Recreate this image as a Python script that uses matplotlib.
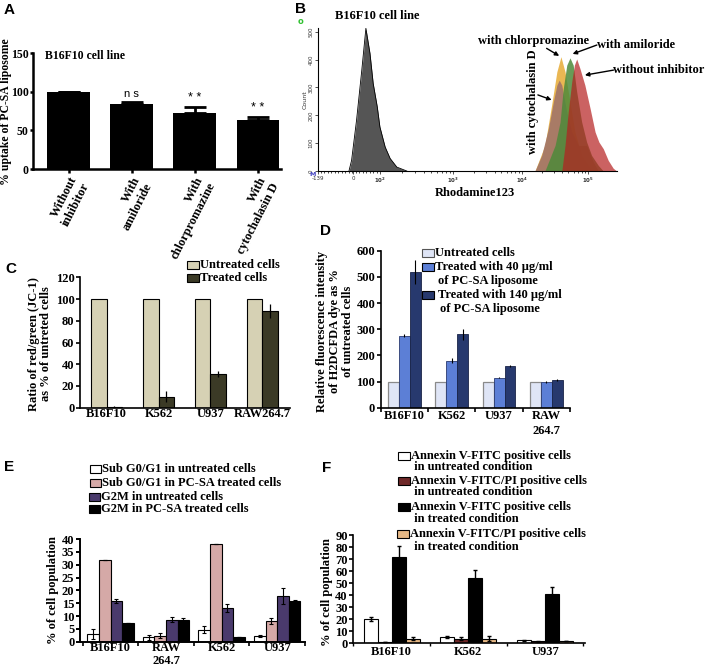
import numpy as np
import matplotlib.pyplot as plt
from matplotlib.patches import Rectangle
from matplotlib.transforms import ScaledTranslation

W, H = 705, 667

# ---- A: uptake with endocytosis inhibitors
a_labels = ['Without\ninhibitor', 'With\namiloride', 'With\nchlorpromazine', 'With\ncytochalasin D']
a_vals = [100, 84, 72, 64]
a_err = [0, 2, 8, 3]
a_marks = ['', 'n s', '* *', '* *']

# ---- B: flow histograms (channel, count)
b_ctrl_x = [106, 115, 132, 150, 164, 178, 189, 203, 212, 230, 247, 270, 304]
b_ctrl_y = [0, 38, 182, 362, 512, 422, 314, 230, 158, 86, 45, 14, 0]
b_chlor_x = [743, 777, 800, 818, 832, 846, 863, 880, 903, 932, 942]
b_chlor_y = [0, 92, 236, 356, 410, 356, 248, 140, 56, 10, 0]
b_cyto_x = [743, 766, 789, 806, 818, 826, 835, 852, 869, 892, 920, 943, 960]
b_cyto_y = [0, 56, 152, 248, 308, 326, 308, 212, 140, 92, 92, 32, 0]
b_amil_x = [777, 812, 829, 840, 852, 863, 874, 886, 903, 920, 937, 960, 977]
b_amil_y = [0, 92, 176, 296, 380, 406, 380, 284, 176, 104, 56, 20, 0]
b_none_x = [835, 846, 857, 869, 878, 886, 897, 914, 932, 949, 962, 977, 994, 1011, 1023]
b_none_y = [0, 92, 212, 320, 380, 402, 368, 308, 224, 140, 104, 80, 38, 10, 0]
b_tick_pos = [0, 121, 212, 463, 698, 926]
b_tick_lab = ['-139', '0', '$10^2$', '$10^3$', '$10^4$', '$10^5$']

# ---- C: JC-1
c_cells = ['B16F10', 'K562', 'U937', 'RAW264.7']
c_untreated = [100, 100, 100, 100]
c_treated = [1, 10, 31, 89]
c_treated_err = [0.3, 5, 3, 6]

# ---- D: H2DCFDA
d_cells = ['B16F10', 'K562', 'U937', 'RAW\n264.7']
d_untreated = [100, 100, 100, 100]
d_40 = [275, 180, 115, 98]
d_40_err = [5, 10, 3, 3]
d_140 = [518, 280, 160, 105]
d_140_err = [45, 22, 4, 3]

# ---- E: cell cycle
e_cells = ['B16F10', 'RAW\n264.7', 'K562', 'U937']
e_sub_unt = [3.1, 1.8, 4.7, 2.2]
e_sub_unt_err = [2, 1, 1.4, 0.4]
e_sub_trt = [32, 2.4, 38, 8.2]
e_sub_trt_err = [0, 1.1, 0, 1.2]
e_g2m_unt = [15.8, 8.6, 13.1, 17.8]
e_g2m_unt_err = [0.9, 1.1, 1.7, 3.2]
e_g2m_trt = [7.4, 8.6, 1.8, 15.7]
e_g2m_trt_err = [0, 0.7, 0, 0.4]

# ---- F: annexin
f_cells = ['B16F10', 'K562', 'U937']
f_ann_unt = [20, 5.3, 2.5]
f_ann_unt_err = [1.5, 1, 0.5]
f_pi_unt = [1.1, 3.9, 1.7]
f_pi_unt_err = [0.3, 1.5, 0.3]
f_ann_trt = [72, 54, 40.7]
f_ann_trt_err = [9, 6.6, 6.3]
f_pi_trt = [3.9, 3.9, 1.9]
f_pi_trt_err = [1.5, 2, 0.3]

plt.rcParams['font.family'] = ['Liberation Serif', 'DejaVu Serif']
plt.rcParams['font.weight'] = 'bold'
plt.rcParams['font.size'] = 9

fig = plt.figure(figsize=(7.05, 6.67), dpi=100)


def add_box(l, t, r, b):
    return fig.add_axes([l / W, 1 - b / H, (r - l) / W, (b - t) / H])


def put(x, y, s, **kw):
    return fig.text(x / W, 1 - y / H, s, **kw)


def key(x, y, color, label, edge='k', w=12, h=8):
    fig.patches.append(Rectangle((x / W, 1 - (y + h / 2) / H), w / W, h / H,
                                 transform=fig.transFigure, facecolor=color,
                                 edgecolor=edge, lw=0.8))
    put(x + w + 1, y, label, ha='left', va='center', fontsize=9)


def letter(x, y, s):
    put(x, y, s, ha='left', va='top', fontsize=11, family='Liberation Sans', fontweight='bold')


def style(ax, lw=1.2):
    for s in ['top', 'right']:
        ax.spines[s].set_visible(False)
    for s in ['left', 'bottom']:
        ax.spines[s].set_linewidth(lw)
    ax.tick_params(direction='out', length=3, width=lw, labelsize=9, pad=1)


# ================= A
ax = add_box(33, 53, 281, 169)
xa = np.arange(len(a_vals))
ax.bar(xa, a_vals, width=0.68, color='k')
ax.errorbar(xa, a_vals, yerr=[np.zeros(len(a_err)), a_err], fmt='none', ecolor='k',
            elinewidth=2, capsize=8, capthick=2)
for i, m in enumerate(a_marks):
    if m:
        ax.text(xa[i], a_vals[i] + a_err[i] + 4, m, ha='center', va='bottom',
                family='Liberation Sans', fontweight='normal', fontsize=9 if m != 'n s' else 8)
ax.set_xlim(-0.562, 3.364)
ax.set_ylim(0, 150)
ax.set_yticks([0, 50, 100, 150])
ax.set_xticks(xa)
ax.set_xticklabels(a_labels, rotation=63, ha='right', va='top', rotation_mode='anchor',
                   multialignment='right', fontsize=9)
shift = ScaledTranslation(-4 / 100, 0, fig.dpi_scale_trans)
for t in ax.get_xticklabels():
    t.set_transform(t.get_transform() + shift)
style(ax, 1.8)
ax.tick_params(axis='y', labelsize=8.5, length=2.5, pad=0.5)
ax.text(0.05, 0.97, 'B16F10 cell line', transform=ax.transAxes, fontsize=8.5, va='center')
put(6, 112, '% uptake of PC-SA liposome', rotation=90, ha='center', va='center', fontsize=8.5)
letter(4, 3, 'A')

# ================= B
bx = add_box(318, 28.3, 617, 171)
bx.fill_between(b_ctrl_x, b_ctrl_y, color='#555555', lw=0)
bx.plot(b_ctrl_x, b_ctrl_y, color='k', lw=0.6)
bx.fill_between(b_chlor_x, b_chlor_y, color='#e8b040', alpha=0.9, lw=0)
bx.fill_between(b_cyto_x, b_cyto_y, color='#a57868', alpha=0.95, lw=0)
bx.fill_between(b_amil_x, b_amil_y, color='#4e8a3a', alpha=0.85, lw=0)
bx.fill_between(b_none_x, b_none_y, color='#b52020', alpha=0.7, lw=0)
bx.set_xlim(0, 1024)
bx.set_ylim(0, 512)
bx.set_xticks(b_tick_pos)
bx.set_xticklabels(b_tick_lab)
dec = b_tick_pos[2:]
minor = []
for k in range(len(dec) - 1):
    minor += [dec[k] + np.log10(m) * (dec[k + 1] - dec[k]) for m in range(2, 10)]
minor += list(np.arange(10, b_tick_pos[2], 12))
bx.set_xticks(minor, minor=True)
bx.set_yticks([0, 100, 200, 300, 400, 500])
bx.tick_params(axis='both', labelsize=4, length=2, width=0.6, pad=1, colors='#333333')
bx.tick_params(axis='x', pad=1.5)
bx.tick_params(axis='x', which='minor', length=1.5, width=0.5)
for t in bx.get_yticklabels():
    t.set_rotation(90)
    t.set_va('center')
    t.set_family('DejaVu Sans')
    t.set_fontweight('normal')
for t in bx.get_xticklabels():
    t.set_family('DejaVu Sans')
    t.set_fontweight('normal')
for s in ['top', 'right']:
    bx.spines[s].set_visible(False)
for s in ['left', 'bottom']:
    bx.spines[s].set_linewidth(0.8)
put(305, 100, 'Count', rotation=90, ha='center', va='center', fontsize=4.5,
    family='DejaVu Sans', fontweight='normal', color='#333333')
put(313, 174, 'M', ha='center', va='center', fontsize=4.5, family='DejaVu Sans', color='#4040c0')
put(301, 22, 'o', ha='center', va='center', fontsize=6, family='DejaVu Sans', color='#30c030')
put(335, 16, 'B16F10 cell line', ha='left', va='center', fontsize=9)
put(475, 193, 'Rhodamine123', ha='center', va='center', fontsize=9)
arr = dict(arrowstyle='-|>', color='k', lw=1, mutation_scale=6, shrinkA=0, shrinkB=0)
bx.annotate('', xy=(826, 413), xytext=(783, 440), arrowprops=arr, annotation_clip=False)
bx.text(738, 467, 'with chlorpromazine', ha='center', va='center', fontsize=9, clip_on=False)
bx.annotate('', xy=(872, 420), xytext=(955, 452), arrowprops=arr, annotation_clip=False)
bx.text(955, 452, 'with amiloride', ha='left', va='center', fontsize=9, clip_on=False)
bx.annotate('', xy=(914, 344), xytext=(1012, 362), arrowprops=arr, annotation_clip=False)
bx.text(1012, 362, 'without inhibitor', ha='left', va='center', fontsize=9, clip_on=False)
bx.annotate('', xy=(800, 255), xytext=(753, 273), arrowprops=arr, annotation_clip=False)
bx.text(735, 248, 'with cytochalasin D', rotation=90, ha='center', va='center', fontsize=9)
letter(295, 2, 'B')

# ================= C
cx = add_box(80, 277.3, 290, 407.7)
xc = np.arange(len(c_cells))
cw = 0.3
cx.bar(xc - cw / 2, c_untreated, width=cw, color='#d6d1b4', edgecolor='k', lw=0.8)
cx.bar(xc + cw / 2, c_treated, width=cw, color='#3b3a26', edgecolor='k', lw=0.8,
       yerr=c_treated_err, error_kw=dict(ecolor='k', elinewidth=0.9, capsize=0))
cx.set_xlim(-0.514, 3.534)
cx.set_ylim(0, 120)
cx.set_yticks(range(0, 121, 20))
cx.set_xticks(xc)
cx.set_xticklabels(c_cells)
style(cx, 1.2)
cx.tick_params(axis='x', length=0, pad=0)
put(40, 344, 'Ratio of red/green (JC-1)\nas % of untreted cells', rotation=90,
    ha='center', va='center', fontsize=9, linespacing=1.1)
key(187, 265, '#d6d1b4', 'Untreated cells')
key(187, 278, '#3b3a26', 'Treated cells')
letter(5, 262, 'C')

# ================= D
dx = add_box(380.7, 250.7, 570, 407.7)
xd = np.arange(len(d_cells))
dw = 0.232
dx.bar(xd - dw, d_untreated, width=dw, color='#dfe5f6', edgecolor='#8a8a8a', lw=0.9)
dx.bar(xd, d_40, width=dw, color='#5c7fd6', edgecolor='#2a3a70', lw=0.6,
       yerr=d_40_err, error_kw=dict(ecolor='k', elinewidth=0.8, capsize=0))
dx.bar(xd + dw, d_140, width=dw, color='#27396e', edgecolor='#1a2448', lw=0.6,
       yerr=d_140_err, error_kw=dict(ecolor='k', elinewidth=0.8, capsize=0))
dx.set_xlim(-0.486, 3.499)
dx.set_ylim(0, 600)
dx.set_yticks(range(0, 601, 100))
dx.set_xticks(xd)
dx.set_xticklabels(d_cells, va='top', linespacing=1.3)
dx.set_xticks(np.arange(-0.5, 4, 1), minor=True)
style(dx, 1.2)
dx.tick_params(axis='x', which='major', length=0, pad=2)
dx.tick_params(axis='x', which='minor', length=3, width=1.2)
put(335, 331, 'Relative fluorescence intensity\nof H2DCFDA dye as %\nof untreated cells',
    rotation=90, ha='center', va='center', fontsize=9, linespacing=1.1)
key(422, 253.3, '#dfe5f6', 'Untreated cells', edge='#555555')
key(422, 266.7, '#5c7fd6', 'Treated with 40 \u03bcg/ml')
put(438, 281, 'of PC-SA liposome', ha='left', va='center', fontsize=9)
key(422, 295, '#27396e', ' Treated with 140 \u03bcg/ml')
put(440, 309, 'of PC-SA liposome', ha='left', va='center', fontsize=9)
letter(320, 224, 'D')

# ================= E
ex = add_box(80, 539, 305, 641.7)
xe = np.arange(len(e_cells))
ew = 0.209
ek = dict(ecolor='k', elinewidth=0.8, capsize=1.5, capthick=0.8)
ex.bar(xe - 1.5 * ew, e_sub_unt, width=ew, color='white', edgecolor='k', lw=0.8,
       yerr=e_sub_unt_err, error_kw=ek)
ex.bar(xe - 0.5 * ew, e_sub_trt, width=ew, color='#d5a9a7', edgecolor='k', lw=0.8,
       yerr=e_sub_trt_err, error_kw=ek)
ex.bar(xe + 0.5 * ew, e_g2m_unt, width=ew, color='#4a3a6c', edgecolor='k', lw=0.8,
       yerr=e_g2m_unt_err, error_kw=ek)
ex.bar(xe + 1.5 * ew, e_g2m_trt, width=ew, color='black', edgecolor='k', lw=0.8,
       yerr=e_g2m_trt_err, error_kw=ek)
ex.set_xlim(-0.549, 3.478)
ex.set_ylim(0, 40)
ex.set_yticks(range(0, 41, 5))
ex.set_xticks(xe)
ex.set_xticklabels(e_cells, va='top', linespacing=1.15)
ex.set_xticks(np.arange(-0.5, 4, 1), minor=True)
style(ex, 1.4)
ex.tick_params(axis='x', which='major', length=0, pad=0)
ex.tick_params(axis='x', which='minor', length=3, width=1.2)
put(53, 590, '% of cell population', rotation=90, ha='center', va='center', fontsize=9)
key(90, 469.3, 'white', 'Sub G0/G1 in untreated cells', w=11)
key(90, 482.7, '#d5a9a7', 'Sub G0/G1 in PC-SA treated cells', w=11)
key(89, 496.7, '#4a3a6c', 'G2M in untreated cells', w=11)
key(89, 509.3, 'black', 'G2M in PC-SA treated cells', w=11)
letter(4, 460, 'E')

# ================= F
fx = add_box(353.3, 535, 585, 643.3)
xf = np.arange(len(f_cells))
fw = 0.183
fk = dict(ecolor='k', elinewidth=1, capsize=1.5, capthick=1)
fx.bar(xf - 1.5 * fw, f_ann_unt, width=fw, color='white', edgecolor='k', lw=0.8,
       yerr=f_ann_unt_err, error_kw=fk)
fx.bar(xf - 0.5 * fw, f_pi_unt, width=fw, color='#6e2828', edgecolor='k', lw=0.8,
       yerr=f_pi_unt_err, error_kw=fk)
fx.bar(xf + 0.5 * fw, f_ann_trt, width=fw, color='black', edgecolor='k', lw=0.8,
       yerr=f_ann_trt_err, error_kw=fk)
fx.bar(xf + 1.5 * fw, f_pi_trt, width=fw, color='#e6b885', edgecolor='k', lw=0.8,
       yerr=f_pi_trt_err, error_kw=fk)
fx.set_xlim(-0.5, 2.52)
fx.set_ylim(0, 90)
fx.set_yticks(range(0, 91, 10))
fx.set_xticks(xf)
fx.set_xticklabels(f_cells)
fx.set_xticks(np.arange(-0.5, 3, 1), minor=True)
style(fx, 1.2)
fx.tick_params(axis='x', which='major', length=0, pad=2)
fx.tick_params(axis='x', which='minor', length=2, width=1)
put(327, 592, '% of cell population', rotation=90, ha='center', va='center', fontsize=9)
key(398, 455.7, 'white', 'Annexin V-FITC positive cells')
put(411, 466.5, ' in untreated condition', ha='left', va='center', fontsize=9)
key(398, 480.7, '#6e2828', 'Annexin V-FITC/PI positive cells')
put(411, 492, ' in untreated condition', ha='left', va='center', fontsize=9)
key(398, 507.2, 'black', 'Annexin V-FITC positive cells')
put(411, 518.5, ' in treated condition', ha='left', va='center', fontsize=9)
key(397, 534.3, '#e6b885', 'Annexin V-FITC/PI positive cells')
put(411, 546.7, ' in treated condition', ha='left', va='center', fontsize=9)
letter(322, 461, 'F')

fig.savefig('out.png', dpi=100)
